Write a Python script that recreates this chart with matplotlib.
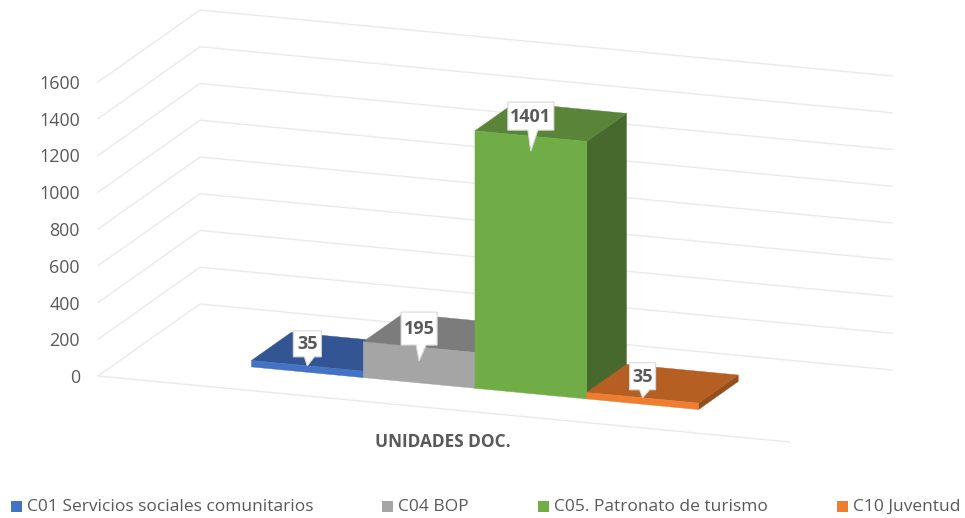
import numpy as np
import matplotlib
matplotlib.use('Agg')
import matplotlib.pyplot as plt
from matplotlib.patches import Polygon

plt.rcParams['font.family'] = ['Open Sans', 'DejaVu Sans']

# data
categories = ['C01 Servicios sociales comunitarios', 'C04 BOP', 'C05. Patronato de turismo', 'C10 Juventud']
values = [35, 195, 1401, 35]
axis_ticks = [0, 200, 400, 600, 800, 1000, 1200, 1400, 1600]
axis_title = 'UNIDADES DOC.'

front_colors = ['#4472C4', '#A5A5A5', '#70AD47', '#ED7D31']
top_colors = ['#335593', '#7C7C7C', '#5A8538', '#B55F22']
side_colors = ['#2A4778', '#666666', '#48692E', '#94501C']

# fake 3d box, everything in picture pixels
origin = np.array([98.0, 376.0])
width_vec = np.array([692.0, 66.0])
depth_vec = np.array([102.0, -72.0])
px_per_unit = 36.75 / 200

bar_start = 0.179
bar_width = 0.1615
bar_v0 = 0.29
bar_v1 = 0.68

text_color = '#595959'
grid_color = '#EAEAEA'


def proj(u, v, val=0):
    p = origin + u * width_vec + v * depth_vec
    return [p[0], p[1] - val * px_per_unit]


def face(ax, pts, color, z):
    ax.add_patch(Polygon(pts, closed=True, facecolor=color, edgecolor=color, linewidth=0.3, zorder=z))


def callout(ax, tip, box, label):
    x0, x1, y0, y1 = box
    cx = (x0 + x1) / 2
    pts = [(x0, y0), (x1, y0), (x1, y1), (cx + 7, y1), tip, (cx - 3, y1), (x0, y1)]
    ax.add_patch(Polygon(pts, closed=True, facecolor='white', edgecolor='#D9D9D9', linewidth=0.8, zorder=20))
    ax.text(cx, (y0 + y1) / 2 + 0.5, label, ha='center', va='center', fontsize=13, fontweight='bold',
            color=text_color, zorder=21)


fig = plt.figure(figsize=(9.65, 5.18), dpi=100)
ax = fig.add_axes([0, 0, 1, 1])
ax.set_xlim(0, 965)
ax.set_ylim(518, 0)
ax.axis('off')

# grid on the wall and side wall
for t in axis_ticks:
    line = np.array([proj(0, 0, t), proj(0, 1, t), proj(1, 1, t)])
    ax.plot(line[:, 0], line[:, 1], color=grid_color, lw=1, zorder=1)
    ax.text(80, proj(0, 0, t)[1] + 2, str(t), ha='right', va='center', fontsize=12.9, color=text_color)

floor = np.array([proj(0, 0), proj(1, 0)])
ax.plot(floor[:, 0], floor[:, 1], color=grid_color, lw=1, zorder=1)

# bars
for i, val in enumerate(values):
    u0 = bar_start + i * bar_width
    u1 = u0 + bar_width
    z = 5 + i
    face(ax, [proj(u1, bar_v0, 0), proj(u1, bar_v1, 0), proj(u1, bar_v1, val), proj(u1, bar_v0, val)],
         side_colors[i], z)
    face(ax, [proj(u0, bar_v0, val), proj(u1, bar_v0, val), proj(u1, bar_v1, val), proj(u0, bar_v1, val)],
         top_colors[i], z)
    face(ax, [proj(u0, bar_v0, 0), proj(u1, bar_v0, 0), proj(u1, bar_v0, val), proj(u0, bar_v0, val)],
         front_colors[i], z)

# data labels
tip_drop = [0, 14, 15, 0]
box_lift = [9, 16, 21, 8]
box_half = [14, 18, 23, 13]
box_high = [26, 33, 28, 27]
for i, val in enumerate(values):
    tx, ty = proj(bar_start + (i + 0.5) * bar_width, bar_v0, val)
    ty = ty + tip_drop[i]
    bot = ty - box_lift[i]
    callout(ax, (tx, ty), (tx - box_half[i], tx + box_half[i], bot - box_high[i], bot), str(val))

ax.text(442.5, 442, axis_title, ha='center', va='center', fontsize=12.4, fontweight='bold', color=text_color)

# legend
legend_x = [11, 382, 538, 837]
for name, col, lx in zip(categories, front_colors, legend_x):
    ax.add_patch(Polygon([(lx, 501), (lx + 10.5, 501), (lx + 10.5, 512), (lx, 512)], closed=True, facecolor=col,
                         edgecolor='none'))
    ax.text(lx + 16, 507, name, ha='left', va='center', fontsize=12.5, color=text_color)

fig.savefig('out.png', dpi=100)
